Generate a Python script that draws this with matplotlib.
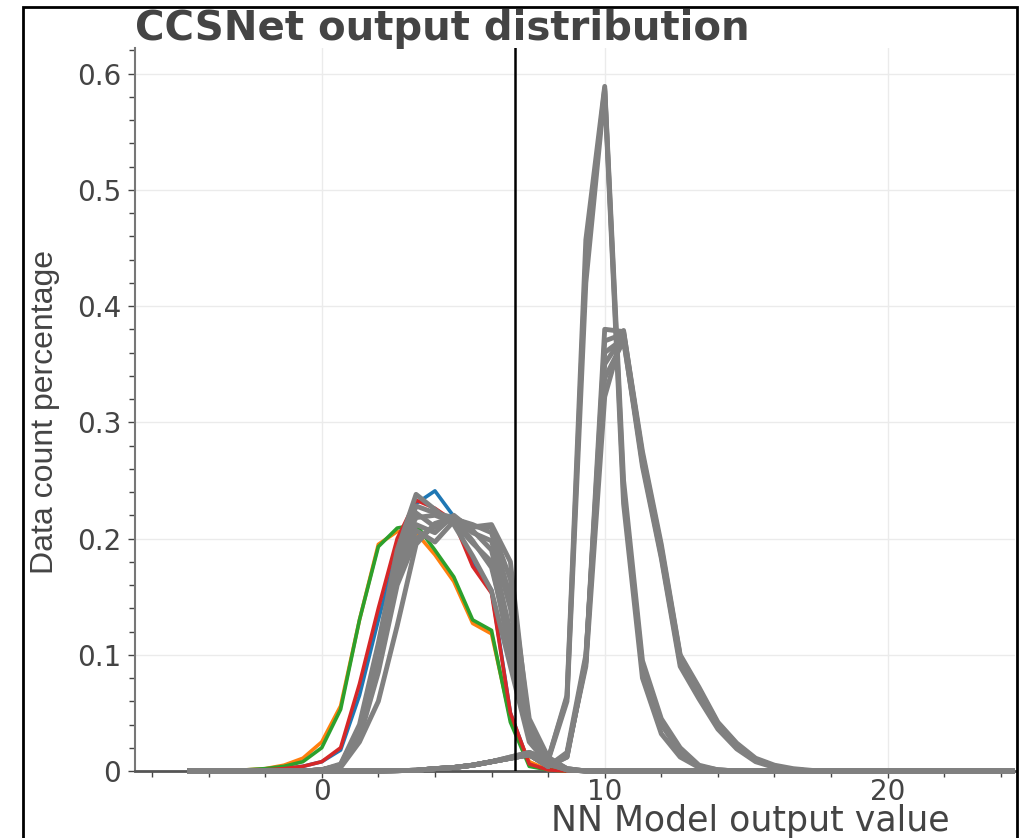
import numpy as np
import matplotlib
matplotlib.use('Agg')
import matplotlib.pyplot as plt
from matplotlib.patches import Rectangle
from matplotlib.ticker import MultipleLocator, FuncFormatter
from matplotlib.transforms import Bbox, TransformedBbox

# Histogram bins: first bin centre and bin width on the model output axis
BIN_START = -14 / 3
BIN_WIDTH = 2 / 3
N_BINS = 45
THRESHOLD = 6.83

# Coloured runs (values per bin, starting at BIN_START, missing tail = 0)
blue = [0, 0, 0, 0, 0.001, 0.002, 0.004, 0.008, 0.018, 0.065, 0.13, 0.19, 0.23,
        0.241, 0.219, 0.178, 0.156, 0.05, 0.006, 0.001]
orange = [0, 0, 0, 0.001, 0.002, 0.005, 0.011, 0.025, 0.056, 0.13, 0.195, 0.206,
          0.205, 0.186, 0.163, 0.127, 0.118, 0.045, 0.008, 0.001]
green = [0, 0, 0, 0.001, 0.002, 0.004, 0.008, 0.02, 0.053, 0.13, 0.193, 0.209,
         0.212, 0.19, 0.167, 0.13, 0.121, 0.042, 0.004, 0.001]
red = [0, 0, 0, 0, 0.001, 0.002, 0.004, 0.008, 0.02, 0.075, 0.14, 0.2, 0.233,
       0.226, 0.215, 0.176, 0.153, 0.05, 0.006, 0.001]

# Grey runs, left hump
gray_left = [
    [0, 0, 0, 0, 0, 0, 0, 0.001, 0.006, 0.04, 0.11, 0.19, 0.238, 0.225, 0.212, 0.185, 0.155, 0.09, 0.025, 0.006, 0.001],
    [0, 0, 0, 0, 0, 0, 0, 0.001, 0.005, 0.035, 0.1, 0.18, 0.228, 0.222, 0.218, 0.198, 0.175, 0.11, 0.03, 0.008, 0.001],
    [0, 0, 0, 0, 0, 0, 0, 0.001, 0.005, 0.032, 0.095, 0.172, 0.222, 0.21, 0.218, 0.205, 0.198, 0.14, 0.04, 0.01, 0.002],
    [0, 0, 0, 0, 0, 0, 0, 0.001, 0.004, 0.03, 0.09, 0.165, 0.207, 0.197, 0.215, 0.21, 0.21, 0.165, 0.045, 0.012, 0.002],
    [0, 0, 0, 0, 0, 0, 0, 0.001, 0.004, 0.028, 0.085, 0.16, 0.2, 0.21, 0.217, 0.212, 0.205, 0.15, 0.038, 0.01, 0.002],
    [0, 0, 0, 0, 0, 0, 0, 0.001, 0.005, 0.033, 0.098, 0.175, 0.212, 0.205, 0.22, 0.207, 0.19, 0.12, 0.032, 0.008, 0.001],
    [0, 0, 0, 0, 0, 0, 0, 0.001, 0.005, 0.036, 0.105, 0.185, 0.218, 0.22, 0.214, 0.196, 0.18, 0.1, 0.028, 0.007, 0.001],
    [0, 0, 0, 0, 0, 0, 0, 0.001, 0.003, 0.025, 0.06, 0.125, 0.195, 0.213, 0.218, 0.21, 0.212, 0.18, 0.035, 0.006, 0.001],
]

# Grey runs, tall right peak
gray_tall = [
    [0] * 11 + [0.0003, 0.0006, 0.002, 0.003, 0.005, 0.008, 0.012, 0.016, 0.01, 0.065, 0.457, 0.589, 0.25, 0.095, 0.045, 0.02, 0.005, 0.001],
    [0] * 11 + [0.0003, 0.0006, 0.002, 0.003, 0.005, 0.008, 0.011, 0.015, 0.009, 0.06, 0.42, 0.585, 0.23, 0.08, 0.032, 0.012, 0.003, 0.001],
    [0] * 11 + [0.0003, 0.0006, 0.002, 0.003, 0.005, 0.008, 0.012, 0.016, 0.01, 0.063, 0.44, 0.587, 0.24, 0.09, 0.04, 0.016, 0.004, 0.001],
]

# Grey runs, flat-topped right peak
gray_flat = [
    [0] * 11 + [0.0003, 0.0006, 0.002, 0.003, 0.005, 0.008, 0.011, 0.014, 0.004, 0.012, 0.095, 0.38, 0.378, 0.275, 0.195, 0.1, 0.072, 0.042, 0.024, 0.011, 0.005, 0.002, 0.0005],
    [0] * 11 + [0.0003, 0.0006, 0.002, 0.003, 0.005, 0.008, 0.011, 0.014, 0.004, 0.015, 0.09, 0.322, 0.379, 0.27, 0.19, 0.097, 0.068, 0.04, 0.022, 0.01, 0.004, 0.001],
    [0] * 11 + [0.0003, 0.0006, 0.002, 0.003, 0.005, 0.008, 0.011, 0.014, 0.004, 0.014, 0.093, 0.35, 0.375, 0.265, 0.185, 0.093, 0.065, 0.038, 0.02, 0.009, 0.004, 0.001],
    [0] * 11 + [0.0003, 0.0006, 0.002, 0.003, 0.005, 0.008, 0.011, 0.014, 0.004, 0.013, 0.097, 0.36, 0.372, 0.262, 0.183, 0.09, 0.062, 0.036, 0.019, 0.008, 0.003, 0.001],
    [0] * 11 + [0.0003, 0.0006, 0.002, 0.003, 0.005, 0.008, 0.011, 0.014, 0.004, 0.016, 0.1, 0.338, 0.37, 0.268, 0.188, 0.095, 0.07, 0.041, 0.023, 0.01, 0.004, 0.001],
    [0] * 11 + [0.0003, 0.0006, 0.002, 0.003, 0.005, 0.008, 0.011, 0.014, 0.004, 0.012, 0.094, 0.37, 0.376, 0.272, 0.192, 0.099, 0.07, 0.04, 0.021, 0.01, 0.004, 0.001],
]

TEXT = '#444444'


def pad(values):
    return np.array(values + [0] * (N_BINS - len(values)), dtype=float)


def main():
    x = BIN_START + BIN_WIDTH * np.arange(N_BINS)

    fig = plt.figure(figsize=(10.26, 8.38), dpi=100)
    ax = fig.add_axes([135 / 1026, 1 - 771 / 838, 880 / 1026, (771 - 48) / 838])
    # let the zero-level lines sit fully on the x axis
    clip = TransformedBbox(Bbox([[0, -0.02], [1, 1]]), ax.transAxes)

    lines = []
    for vals, c in zip([blue, orange, green, red],
                       ['tab:blue', 'tab:orange', 'tab:green', 'tab:red']):
        lines += ax.plot(x, pad(vals), color=c, lw=2.6, zorder=3)
    for vals in gray_left + gray_tall + gray_flat:
        lines += ax.plot(x, pad(vals), color='#808080', lw=3.5, zorder=4)
    for ln in lines:
        ln.set_clip_box(clip)

    ax.axvline(THRESHOLD, color='black', lw=1.8, zorder=6)

    ax.set_xlim(-6.6, 24.5)
    ax.set_ylim(0, 0.622)
    ax.xaxis.set_major_locator(MultipleLocator(10))
    ax.xaxis.set_minor_locator(MultipleLocator(2))
    ax.yaxis.set_major_locator(MultipleLocator(0.1))
    ax.yaxis.set_minor_locator(MultipleLocator(0.02))
    ax.yaxis.set_major_formatter(FuncFormatter(lambda v, _: '0' if abs(v) < 1e-9 else '{:.1f}'.format(v)))
    ax.tick_params(which='major', direction='out', length=5, width=1, color=TEXT,
                   labelsize=20, labelcolor=TEXT)
    ax.tick_params(which='minor', direction='out', length=4, width=1, color=TEXT)
    ax.tick_params(axis='x', pad=0)
    ax.tick_params(axis='y', pad=5)

    ax.grid(True, which='major', color='#ebebeb', lw=1)
    ax.set_axisbelow(True)
    for side in ['top', 'right']:
        ax.spines[side].set_visible(False)
    ax.spines['left'].set_color('#777777')
    ax.spines['left'].set_linewidth(1.5)
    ax.spines['bottom'].set_color('#555555')
    ax.spines['bottom'].set_linewidth(2)

    fig.text(135 / 1026, 1 - 40 / 838, 'CCSNet output distribution', fontsize=29,
             fontweight='bold', color=TEXT, ha='left', va='baseline')
    fig.text(45 / 1026, 1 - 412 / 838, 'Data count percentage', rotation=90,
             fontsize=23, color=TEXT, ha='center', va='center',
             family=['Liberation Sans', 'DejaVu Sans'])
    fig.text(750 / 1026, 1 - 831 / 838, 'NN Model output value', fontsize=25,
             color=TEXT, ha='center', va='baseline')

    # screenshot frame
    fig.add_artist(Rectangle((23 / 1026, -0.01), (1017 - 23) / 1026, 1.01 - 7 / 838,
                             transform=fig.transFigure, fill=False,
                             edgecolor='black', lw=2))

    fig.savefig('out.png', dpi=100)


if __name__ == '__main__':
    main()
